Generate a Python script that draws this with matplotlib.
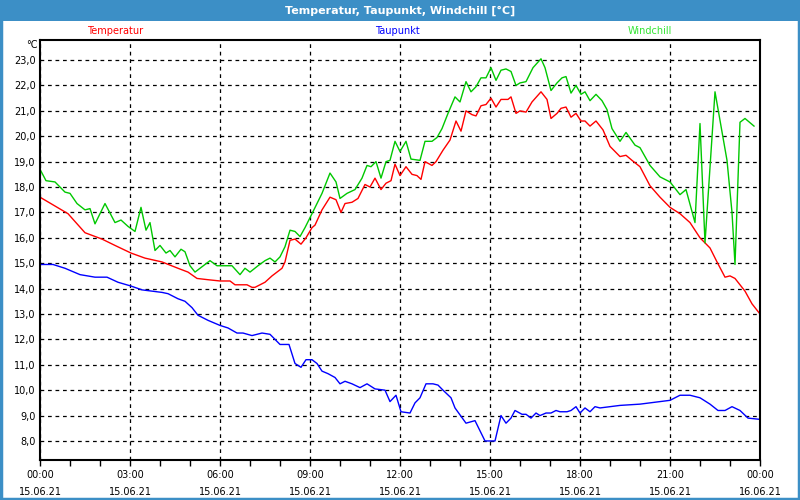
import matplotlib
matplotlib.use("Agg")
import matplotlib.pyplot as plt
from matplotlib.patches import Rectangle
from matplotlib.ticker import MultipleLocator, FuncFormatter

# minutes since 15.06.21 00:00, values in degrees C
temp_t = [0, 56, 90, 124, 150, 182, 210, 244, 276, 296, 314, 336, 360, 380, 390, 414, 424, 430,
          450, 464, 484, 490, 500, 510, 522, 532, 544, 550, 564, 580, 592, 602, 610, 624, 636,
          650, 660, 670, 682, 692, 702, 710, 720, 732, 744, 754, 762, 770, 784, 792, 806, 820,
          832, 842, 852, 864, 872, 882, 892, 902, 912, 922, 936, 942, 952, 960, 972, 984, 1002,
          1014, 1022, 1034, 1042, 1052, 1062, 1072, 1082, 1090, 1100, 1112, 1126, 1140, 1160,
          1172, 1184, 1200, 1220, 1240, 1260, 1280, 1300, 1320, 1340, 1354, 1370, 1380, 1390,
          1410, 1424, 1440]
temp_v = [17.6, 16.95, 16.2, 15.95, 15.7, 15.4, 15.2, 15.05, 14.8, 14.65, 14.4, 14.35, 14.3, 14.3,
          14.15, 14.15, 14.05, 14.05, 14.25, 14.5, 14.8, 15.05, 15.9, 15.95, 15.75, 16.0, 16.4,
          16.5, 17.1, 17.6, 17.5, 17.0, 17.35, 17.4, 17.55, 18.1, 18.0, 18.35, 17.9, 18.15, 18.25,
          18.9, 18.45, 18.8, 18.5, 18.45, 18.3, 19.0, 18.85, 19.0, 19.45, 19.85, 20.6, 20.2, 21.0,
          20.85, 20.8, 21.2, 21.25, 21.5, 21.15, 21.45, 21.45, 21.55, 20.9, 21.0, 20.95, 21.35,
          21.75, 21.45, 20.7, 20.9, 21.1, 21.15, 20.75, 20.9, 20.6, 20.6, 20.4, 20.6, 20.25, 19.6,
          19.2, 19.25, 19.05, 18.8, 18.05, 17.6, 17.2, 16.95, 16.6, 16.0, 15.6, 15.05, 14.45, 14.5,
          14.4, 13.9, 13.4, 13.0]

dew_t = [0, 26, 50, 80, 110, 134, 156, 182, 204, 224, 244, 256, 276, 290, 304, 316, 336, 360, 376,
         394, 406, 424, 444, 460, 470, 480, 498, 510, 522, 532, 544, 554, 564, 576, 590, 600, 610,
         624, 640, 654, 670, 690, 700, 712, 722, 740, 750, 760, 772, 786, 796, 806, 822, 830, 852,
         870, 890, 910, 922, 932, 942, 950, 964, 972, 982, 992, 1000, 1012, 1022, 1032, 1040,
         1054, 1062, 1072, 1080, 1090, 1100, 1110, 1120, 1160, 1200, 1240, 1260, 1280, 1300,
         1320, 1340, 1356, 1370, 1384, 1400, 1416, 1440]
dew_v = [14.95, 14.95, 14.8, 14.55, 14.45, 14.45, 14.25, 14.1, 13.95, 13.9, 13.85, 13.8, 13.6, 13.5,
         13.25, 12.95, 12.75, 12.55, 12.45, 12.25, 12.25, 12.15, 12.25, 12.2, 12.0, 11.8, 11.8,
         11.05, 10.9, 11.2, 11.2, 11.05, 10.75, 10.65, 10.5, 10.25, 10.35, 10.25, 10.1, 10.25,
         10.05, 10.0, 9.55, 9.8, 9.15, 9.1, 9.5, 9.7, 10.25, 10.25, 10.2, 10.0, 9.7, 9.3, 8.7, 8.8,
         8.0, 8.0, 9.0, 8.7, 8.9, 9.2, 9.05, 9.05, 8.9, 9.1, 9.0, 9.1, 9.1, 9.2, 9.15, 9.15, 9.2,
         9.35, 9.1, 9.3, 9.15, 9.35, 9.3, 9.4, 9.45, 9.55, 9.6, 9.8, 9.8, 9.7, 9.45, 9.2, 9.2,
         9.35, 9.2, 8.9, 8.85]

wind_t = [0, 12, 30, 50, 60, 74, 90, 100, 110, 130, 150, 162, 176, 190, 202, 212, 220, 230, 240,
          252, 260, 270, 282, 290, 300, 310, 340, 354, 376, 384, 400, 410, 420, 436, 450, 460, 470,
          480, 490, 500, 510, 520, 530, 544, 564, 580, 592, 600, 614, 630, 644, 654, 662, 672, 682,
          692, 700, 710, 720, 732, 742, 760, 770, 784, 794, 804, 816, 830, 840, 852, 862, 872, 882,
          892, 902, 912, 922, 932, 942, 952, 960, 972, 986, 1002, 1010, 1022, 1034, 1044, 1052,
          1062, 1072, 1082, 1090, 1100, 1112, 1124, 1134, 1144, 1160, 1172, 1190, 1200, 1220,
          1240, 1260, 1280, 1292, 1310, 1320, 1330, 1350, 1374, 1384, 1390, 1400, 1410, 1428]
wind_v = [18.7, 18.25, 18.2, 17.8, 17.75, 17.35, 17.1, 17.15, 16.55, 17.35, 16.6, 16.7, 16.45,
          16.25, 17.2, 16.3, 16.6, 15.5, 15.7, 15.4, 15.5, 15.25, 15.55, 15.45, 14.9, 14.65, 15.1,
          14.9, 14.9, 14.9, 14.55, 14.8, 14.65, 14.9, 15.1, 15.2, 15.05, 15.25, 15.65, 16.3, 16.25,
          16.05, 16.4, 16.95, 17.75, 18.55, 18.2, 17.55, 17.75, 17.9, 18.35, 18.85, 18.8, 19.0,
          18.35, 19.0, 19.05, 19.8, 19.4, 19.8, 19.1, 19.05, 19.8, 19.8, 19.95, 20.3, 20.9, 21.55,
          21.35, 22.15, 21.75, 21.95, 22.3, 22.3, 22.7, 22.2, 22.6, 22.65, 22.55, 22.0, 22.1,
          22.15, 22.7, 23.05, 22.7, 21.8, 22.1, 22.3, 22.35, 21.7, 22.0, 21.65, 21.75, 21.4,
          21.65, 21.4, 21.05, 20.3, 19.8, 20.15, 19.65, 19.55, 18.85, 18.4, 18.2, 17.7, 17.9,
          16.6, 20.5, 15.8, 21.75, 19.05, 17.0, 14.95, 20.55, 20.7, 20.4]

x_labels = ["00:00\n15.06.21", "03:00\n15.06.21", "06:00\n15.06.21", "09:00\n15.06.21",
            "12:00\n15.06.21", "15:00\n15.06.21", "18:00\n15.06.21", "21:00\n15.06.21",
            "00:00\n16.06.21"]

bar_blue = "#3c8fc6"

fig = plt.figure(figsize=(8, 5), dpi=100)
fig.patch.set_facecolor("white")

# title bar and window frame
fig.patches.append(Rectangle((0, 0.958), 1, 0.042, transform=fig.transFigure,
                             facecolor=bar_blue, edgecolor="none", zorder=0))
fig.patches.append(Rectangle((0.001, 0.002), 0.998, 0.996, transform=fig.transFigure,
                             facecolor="none", edgecolor=bar_blue, lw=2.5, zorder=0))
fig.text(0.5, 0.979, "Temperatur, Taupunkt, Windchill [°C]", color="white",
         ha="center", va="center", fontsize=8, fontweight="bold")

ax = fig.add_axes([0.05, 0.08, 0.90, 0.84])
ax.plot(temp_t, temp_v, color="#ff0000", lw=1)
ax.plot(dew_t, dew_v, color="#0000ff", lw=1)
ax.plot(wind_t, wind_v, color="#00c800", lw=1)

ax.set_xlim(0, 1440)
ax.set_ylim(7.25, 23.79)
ax.xaxis.set_minor_locator(MultipleLocator(60))
ax.set_xticks(range(0, 1441, 180))
ax.set_xticklabels(x_labels, fontsize=7, linespacing=1.85)
ax.yaxis.set_major_locator(MultipleLocator(1))
ax.yaxis.set_major_formatter(FuncFormatter(lambda v, p: ("%.1f" % v).replace(".", ",")))
ax.tick_params(axis="y", length=0, labelsize=7, pad=3)
ax.tick_params(axis="x", which="both", length=4, width=1, direction="out", pad=3)
ax.grid(True, which="major", color="black", ls=(0, (3, 3)), lw=0.9)
for s in ax.spines.values():
    s.set_linewidth(1.5)

fig.text(0.047, 0.91, "°C", ha="right", va="center", fontsize=7)
fig.text(0.144, 0.939, "Temperatur", color="#ff0000", ha="center", va="center", fontsize=7)
fig.text(0.497, 0.939, "Taupunkt", color="#0000ff", ha="center", va="center", fontsize=7)
fig.text(0.812, 0.939, "Windchill", color="#33e633", ha="center", va="center", fontsize=7)

fig.savefig("out.png", dpi=100, facecolor=fig.get_facecolor())
